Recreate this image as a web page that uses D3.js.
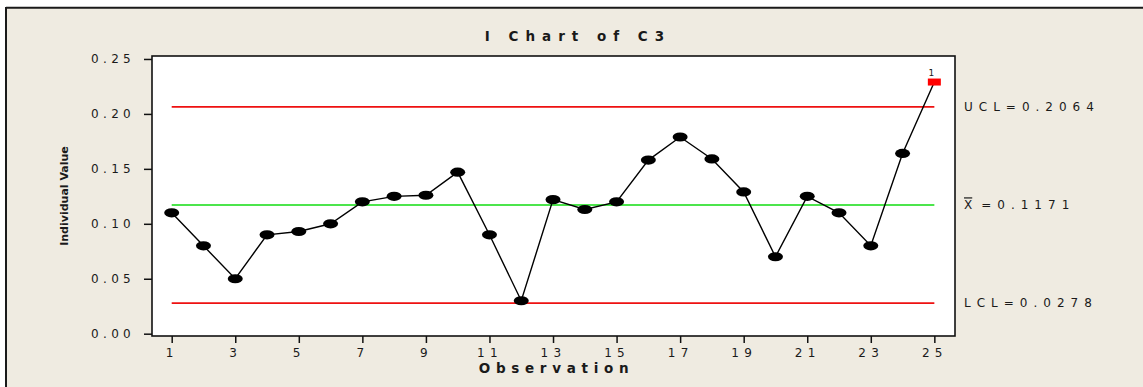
<!DOCTYPE html>
<html>
<head>
<meta charset="utf-8">
<script src="https://cdn.jsdelivr.net/npm/d3@7"></script>
<style>
  html, body { margin: 0; padding: 0; background: #ffffff; }
  svg { display: block; }
  text { font-family: "DejaVu Sans", Verdana, sans-serif; fill: #1a1a1a; }
</style>
</head>
<body>
<svg id="chart" width="1143" height="387"></svg>
<script>
// ---- data ----
const observations = [1,2,3,4,5,6,7,8,9,10,11,12,13,14,15,16,17,18,19,20,21,22,23,24,25];
const values = [0.110, 0.080, 0.050, 0.090, 0.093, 0.100, 0.120, 0.125, 0.126, 0.147,
                0.090, 0.030, 0.122, 0.113, 0.120, 0.158, 0.179, 0.159, 0.129, 0.070,
                0.125, 0.110, 0.080, 0.164, 0.229];
const flagged = [25];            // observations failing test 1
const flagLabels = ["1"];
const limitNames = ["UCL", "mean", "LCL"];
const limitValues = [0.2064, 0.1171, 0.0278];
const yTicks = [0.00, 0.05, 0.10, 0.15, 0.20, 0.25];
const xTicks = [1,3,5,7,9,11,13,15,17,19,21,23,25];
const title = "I Chart of C3";
const xTitle = "Observation";
const yTitle = "Individual Value";

// ---- layout ----
const W = 1143, H = 387;
const plot = { left: 152, top: 56, right: 955, bottom: 336 };
const svg = d3.select("#chart");

// background panel with dark top/left border
svg.append("rect").attr("x", 6).attr("y", 7.5).attr("width", W - 6).attr("height", H - 7.5).attr("fill", "#efebe1");
svg.append("line").attr("x1", 6).attr("x2", W).attr("y1", 7.7).attr("y2", 7.7).attr("stroke", "#1a1a1a").attr("stroke-width", 2);
svg.append("line").attr("x1", 6).attr("x2", 6).attr("y1", 7).attr("y2", H).attr("stroke", "#1a1a1a").attr("stroke-width", 2);

// scales
const x = d3.scaleLinear().domain([0.38, 25.65]).range([plot.left, plot.right]);
const y = d3.scaleLinear().domain([-0.0021, 0.2527]).range([plot.bottom, plot.top]);

// plot area
svg.append("rect").attr("x", plot.left).attr("y", plot.top)
  .attr("width", plot.right - plot.left).attr("height", plot.bottom - plot.top)
  .attr("fill", "#ffffff");

// control lines
const limitColors = { UCL: "#ee1111", mean: "#11dd11", LCL: "#ee1111" };
svg.append("g").selectAll("line").data(limitNames).join("line")
  .attr("x1", x(observations[0])).attr("x2", x(observations[observations.length - 1]))
  .attr("y1", (d, i) => y(limitValues[i])).attr("y2", (d, i) => y(limitValues[i]))
  .attr("stroke", d => limitColors[d]).attr("stroke-width", 1.6);

// series line
const pts = observations.map((o, i) => ({ o, v: values[i] }));
svg.append("path").datum(pts)
  .attr("d", d3.line().x(d => x(d.o)).y(d => y(d.v)))
  .attr("fill", "none").attr("stroke", "#000").attr("stroke-width", 1.4);

// points
svg.append("g").selectAll("ellipse").data(pts.filter(d => !flagged.includes(d.o))).join("ellipse")
  .attr("cx", d => x(d.o)).attr("cy", d => y(d.v)).attr("rx", 7.5).attr("ry", 4.6).attr("fill", "#000");
const flaggedPts = pts.filter(d => flagged.includes(d.o));
svg.append("g").selectAll("rect").data(flaggedPts).join("rect")
  .attr("x", d => x(d.o) - 6.5).attr("y", d => y(d.v) - 3.5).attr("width", 13).attr("height", 7)
  .attr("fill", "#ff0000");
svg.append("g").selectAll("text").data(flaggedPts).join("text")
  .attr("x", d => x(d.o) - 3).attr("y", d => y(d.v) - 6)
  .attr("font-size", 9).attr("text-anchor", "middle").text((d, i) => flagLabels[i]);

// plot frame
svg.append("rect").attr("x", plot.left).attr("y", plot.top)
  .attr("width", plot.right - plot.left).attr("height", plot.bottom - plot.top)
  .attr("fill", "none").attr("stroke", "#111").attr("stroke-width", 1.6);

// axes
const yAxis = svg.append("g").attr("transform", `translate(${plot.left},0)`)
  .call(d3.axisLeft(y).tickValues(yTicks).tickFormat(d3.format(".2f")).tickSize(8).tickPadding(9));
yAxis.select(".domain").remove();
yAxis.selectAll(".tick line").attr("stroke", "#111").attr("stroke-width", 1.5);
yAxis.selectAll(".tick text").attr("font-size", 12).attr("letter-spacing", "4.3px")
  .attr("font-family", "DejaVu Sans").attr("fill", "#1a1a1a");

const xAxis = svg.append("g").attr("transform", `translate(0,${plot.bottom})`)
  .call(d3.axisBottom(x).tickValues(xTicks).tickFormat(d3.format("d")).tickSize(7).tickPadding(5));
xAxis.select(".domain").remove();
xAxis.selectAll(".tick line").attr("stroke", "#111").attr("stroke-width", 1.5);
xAxis.selectAll(".tick text").attr("font-size", 12).attr("letter-spacing", "5.3px")
  .attr("font-family", "DejaVu Sans").attr("fill", "#1a1a1a");

// limit labels
const labelG = svg.append("g").attr("font-size", 12).attr("letter-spacing", "6px");
labelG.append("text").attr("x", 964).attr("y", y(limitValues[0])).attr("dy", "0.36em")
  .text("UCL=" + limitValues[0].toFixed(4));
const meanT = labelG.append("text").attr("x", 964).attr("y", y(limitValues[1])).attr("dy", "0.36em");
meanT.append("tspan").attr("text-decoration", "overline").attr("letter-spacing", "0px").text("X");
meanT.append("tspan").attr("dx", 9).text("=" + limitValues[1].toFixed(4));
labelG.append("text").attr("x", 964).attr("y", y(limitValues[2])).attr("dy", "0.36em")
  .text("LCL=" + limitValues[2].toFixed(4));

// titles
svg.append("text").attr("x", 574.5 + 3.5).attr("y", 41).attr("text-anchor", "middle")
  .attr("font-size", 13.5).attr("font-weight", "bold").attr("letter-spacing", "7px").text(title);
svg.append("text").attr("x", (plot.left + plot.right) / 2 + 3).attr("y", 373)
  .attr("text-anchor", "middle").attr("font-size", 13.5).attr("font-weight", "bold")
  .attr("letter-spacing", "5.7px").text(xTitle);
svg.append("text").attr("transform", `translate(67.5,${(plot.top + plot.bottom) / 2}) rotate(-90)`)
  .attr("text-anchor", "middle").attr("font-size", 11).attr("font-weight", "bold").text(yTitle);
</script>
</body>
</html>
